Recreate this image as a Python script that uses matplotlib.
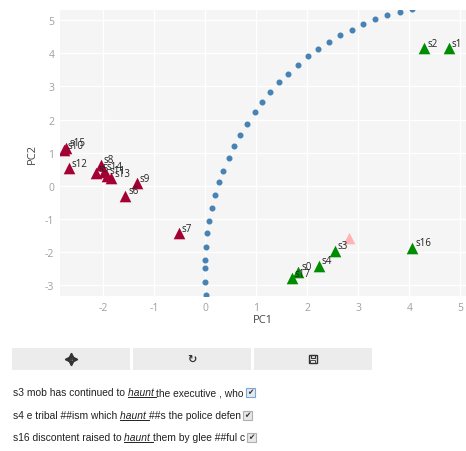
import matplotlib
matplotlib.use("Agg")
import matplotlib.pyplot as plt
from matplotlib.patches import Rectangle
import numpy as np

plt.rcParams['axes.unicode_minus'] = False

W, H = 466, 452

red_labels = ['s15', 's10', 's12', 's8', 's5', 's14', 's11', 's13', 's9', 's6', 's7']
red_x = [-2.72, -2.76, -2.67, -2.04, -2.14, -1.98, -1.92, -1.84, -1.34, -1.56, -0.51]
red_y = [1.15, 1.08, 0.53, 0.63, 0.38, 0.42, 0.30, 0.22, 0.07, -0.30, -1.44]

green_labels = ['s0', 's1', 's2', 's3', 's4', 's16', 's17']
green_x = [1.83, 4.77, 4.29, 2.54, 2.23, 4.06, 1.70]
green_y = [-2.60, 4.16, 4.15, -1.97, -2.42, -1.87, -2.80]

pink_x = [2.82]
pink_y = [-1.59]

curve_x = [0.01, 0.0, 0.0, 0.0, 0.01, 0.03, 0.08, 0.13, 0.196, 0.27, 0.36, 0.46, 0.57,
           0.69, 0.82, 0.97, 1.12, 1.28, 1.45, 1.63, 1.82, 2.02, 2.22, 2.43, 2.65, 2.87,
           3.10, 3.33, 3.57, 3.81, 4.06]
curve_y = [-3.30, -2.92, -2.50, -2.24, -1.85, -1.44, -1.07, -0.67, -0.28, 0.10, 0.46,
           0.84, 1.20, 1.54, 1.88, 2.22, 2.53, 2.83, 3.12, 3.39, 3.66, 3.91, 4.13, 4.35,
           4.54, 4.71, 4.88, 5.03, 5.15, 5.26, 5.34]

sentences = [
    ("s3 mob has continued to ", "haunt ", "the executive , who", True),
    ("s4 e tribal ##ism which ", "haunt ", "##s the police defen", False),
    ("s16 discontent raised to ", "haunt ", "them by glee ##ful c", False),
]


def box(x0, y0, x1, y1):
    # pixel box (top-left origin) -> figure fraction rect
    return [x0 / W, 1 - y1 / H, (x1 - x0) / W, (y1 - y0) / H]


fig = plt.figure(figsize=(W / 100, H / 100), dpi=100)
ax = fig.add_axes(box(60, 11, 466, 297.3))
ax.set_facecolor('#f5f5f5')
ax.set_xlim(-2.84, 5.11)
ax.set_ylim(-3.34, 5.31)
ax.set_xticks(range(-2, 6))
ax.set_yticks(range(-3, 6))
ax.grid(True, color='white', lw=1)
ax.set_axisbelow(True)
for s in ax.spines.values():
    s.set_visible(False)
ax.tick_params(length=0, colors='#a0a0a0', labelsize=7.5, pad=4)
for t in ax.get_xticklabels() + ax.get_yticklabels():
    t.set_family('Open Sans')
ax.set_xlabel('PC1', fontsize=8, color='#444444', family='Open Sans', labelpad=1)
ax.set_ylabel('PC2', fontsize=8, color='#444444', family='Open Sans', labelpad=5)

ax.scatter(curve_x, curve_y, s=11, color='#4682b4', zorder=2, clip_on=True)
ax.scatter(red_x, red_y, marker='^', s=70, color='#a50034', zorder=3, lw=0)
ax.scatter(green_x, green_y, marker='^', s=70, color='#008c00', zorder=3, lw=0)
ax.scatter(pink_x, pink_y, marker='^', s=70, color='#ffb3b8', zorder=3, lw=0)
for lab, x, y in zip(red_labels + green_labels, red_x + green_x, red_y + green_y):
    ax.annotate(lab, (x, y), xytext=(3, 5), textcoords='offset pixels', fontsize=7,
                color='#222222', family='Open Sans', va='center', ha='left', zorder=4)

# toolbar buttons, each axes in its own pixel units centred on the button
btns = [(12.3, 130), (133, 250.7), (254, 371.7)]
baxes = []
for x0, x1 in btns:
    b = fig.add_axes(box(x0, 349, x1, 371))
    b.set_facecolor('#ececec')
    hw = (x1 - x0) / 2
    b.set_xlim(-hw, hw)
    b.set_ylim(-11, 11)
    b.set_xticks([])
    b.set_yticks([])
    for s in b.spines.values():
        s.set_visible(False)
    baxes.append(b)

ic = '#333333'
# move icon
b = baxes[0]
b.plot([-3.5, 3.5], [0, 0], color=ic, lw=1.1)
b.plot([0, 0], [-3.5, 3.5], color=ic, lw=1.1)
b.plot([-4], [0], marker='<', ms=3.2, color=ic, lw=0)
b.plot([4], [0], marker='>', ms=3.2, color=ic, lw=0)
b.plot([0], [4], marker='^', ms=3.2, color=ic, lw=0)
b.plot([0], [-4], marker='v', ms=3.2, color=ic, lw=0)
# refresh icon
baxes[1].text(0, 0, '\u21bb', ha='center', va='center', fontsize=8, color=ic,
              fontweight='bold')
# save icon
b = baxes[2]
b.add_patch(Rectangle((-4, -4), 8, 8, fill=False, ec=ic, lw=1))
b.add_patch(Rectangle((-2.3, 1), 4.6, 3, fill=False, ec=ic, lw=0.8))
b.add_patch(Rectangle((-2.5, -3.6), 5, 2.5, fill=False, ec=ic, lw=0.6))

# sentence lines with checkboxes
fig.canvas.draw()
r = fig.canvas.get_renderer()
ys = [393.3, 416, 438.3]
for (pre, word, post, focus), yy in zip(sentences, ys):
    x = 12.7
    for txt, style in [(pre, 'normal'), (word, 'italic'), (post, 'normal')]:
        t = fig.text(x / W, 1 - yy / H, txt, fontsize=7.4, family='Liberation Sans',
                     style=style, color='#222222', va='center', ha='left')
        w = t.get_window_extent(r).width
        if style == 'italic':
            fig.add_artist(plt.Line2D([x / W, (x + w) / W],
                                      [1 - (yy + 5) / H, 1 - (yy + 5) / H],
                                      color='#222222', lw=0.7))
        x += w
    x += 2
    fig.add_artist(Rectangle((x / W, 1 - (yy + 5) / H), 9 / W, 9 / H,
                             transform=fig.transFigure, fc='#e8e8e8',
                             ec='#7aa7d8' if focus else '#b0b0b0', lw=0.8))
    fig.text((x + 4.5) / W, 1 - (yy - 0.5) / H, '\u2714', fontsize=5.5, color=ic,
             ha='center', va='center', family='DejaVu Sans')

fig.savefig('out.png', dpi=100)
